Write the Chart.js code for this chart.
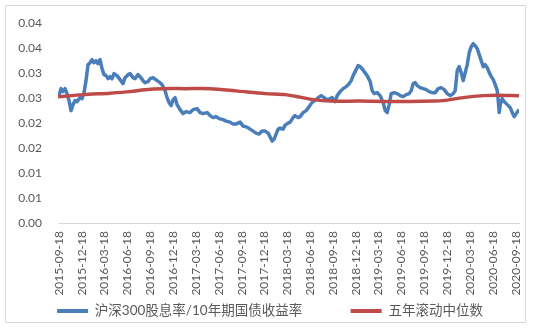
<!DOCTYPE html>
<html><head><meta charset="utf-8">
<script src="https://cdn.jsdelivr.net/npm/chart.js@4.4.0/dist/chart.umd.min.js"></script>
<style>html,body{margin:0;padding:0;background:#fff;}#wrap{width:540px;height:332px;}</style>
</head><body><div id="wrap"><canvas id="c" width="540" height="332"></canvas></div>
<script>
const seriesNames = ["沪深300股息率/10年期国债收益率", "五年滚动中位数"];
const tickLabels = ["2015-09-18","2015-12-18","2016-03-18","2016-06-18","2016-09-18","2016-12-18","2017-03-18","2017-06-18","2017-09-18","2017-12-18","2018-03-18","2018-06-18","2018-09-18","2018-12-18","2019-03-18","2019-06-18","2019-09-18","2019-12-18","2020-03-18","2020-06-18","2020-09-18"];

const blueDates = ["2015-09-18","2015-09-26","2015-10-04","2015-10-12","2015-10-20","2015-10-28","2015-11-05","2015-11-13","2015-11-21","2015-11-29","2015-12-11","2015-12-19","2015-12-27","2016-01-04","2016-01-12","2016-01-20","2016-01-28","2016-02-05","2016-02-13","2016-02-21","2016-02-29","2016-03-08","2016-03-16","2016-03-24","2016-04-01","2016-04-09","2016-04-17","2016-04-25","2016-05-07","2016-05-19","2016-05-31","2016-06-08","2016-06-20","2016-06-28","2016-07-10","2016-07-18","2016-07-30","2016-08-07","2016-08-19","2016-08-27","2016-09-08","2016-09-16","2016-09-28","2016-10-14","2016-10-26","2016-11-03","2016-11-15","2016-11-23","2016-12-01","2016-12-09","2016-12-17","2016-12-25","2017-01-02","2017-01-14","2017-01-26","2017-02-07","2017-02-23","2017-03-07","2017-03-23","2017-04-04","2017-04-16","2017-05-02","2017-05-14","2017-05-26","2017-06-07","2017-06-19","2017-07-05","2017-07-17","2017-08-02","2017-08-14","2017-08-26","2017-09-11","2017-09-23","2017-10-09","2017-10-21","2017-11-02","2017-11-14","2017-11-26","2017-12-08","2017-12-20","2018-01-01","2018-01-09","2018-01-17","2018-01-25","2018-02-02","2018-02-10","2018-02-18","2018-03-02","2018-03-10","2018-03-22","2018-03-30","2018-04-11","2018-04-19","2018-05-01","2018-05-09","2018-05-21","2018-06-02","2018-06-14","2018-06-22","2018-06-30","2018-07-12","2018-07-20","2018-08-01","2018-08-13","2018-08-25","2018-09-06","2018-09-14","2018-09-26","2018-10-04","2018-10-16","2018-10-28","2018-11-09","2018-11-21","2018-11-29","2018-12-07","2018-12-15","2018-12-27","2019-01-04","2019-01-12","2019-01-20","2019-02-01","2019-02-13","2019-02-21","2019-03-01","2019-03-13","2019-03-25","2019-04-06","2019-04-14","2019-04-22","2019-04-30","2019-05-08","2019-05-20","2019-06-01","2019-06-13","2019-06-25","2019-07-07","2019-07-19","2019-07-27","2019-08-04","2019-08-12","2019-08-20","2019-09-01","2019-09-13","2019-09-25","2019-10-07","2019-10-19","2019-10-31","2019-11-12","2019-11-24","2019-12-06","2019-12-18","2019-12-30","2020-01-11","2020-01-19","2020-01-27","2020-02-04","2020-02-12","2020-02-20","2020-02-28","2020-03-07","2020-03-15","2020-03-23","2020-03-31","2020-04-08","2020-04-16","2020-04-24","2020-05-02","2020-05-10","2020-05-18","2020-05-26","2020-06-03","2020-06-11","2020-06-19","2020-06-27","2020-07-05","2020-07-09","2020-07-13","2020-07-17","2020-07-25","2020-08-02","2020-08-14","2020-08-26","2020-09-03","2020-09-11","2020-09-19","2020-09-27"];
const blueValues = [0.0255,0.0269,0.0263,0.0269,0.0259,0.0245,0.0225,0.0237,0.0245,0.0243,0.0251,0.0249,0.0261,0.0285,0.0317,0.0321,0.0327,0.0321,0.0325,0.0319,0.0327,0.0309,0.0297,0.0295,0.0289,0.0293,0.0289,0.0299,0.0295,0.0287,0.0279,0.0291,0.0297,0.0299,0.0291,0.0289,0.0297,0.0293,0.0285,0.0281,0.0283,0.0289,0.0291,0.0285,0.0281,0.0277,0.0265,0.0251,0.0241,0.0235,0.0247,0.0251,0.0237,0.0227,0.0219,0.0223,0.0221,0.0227,0.0229,0.0221,0.0219,0.0221,0.0215,0.0211,0.0213,0.0209,0.0207,0.0204,0.0202,0.0198,0.0198,0.0202,0.0194,0.0192,0.0188,0.0184,0.0180,0.0178,0.0184,0.0184,0.0180,0.0172,0.0164,0.0168,0.0178,0.0188,0.0190,0.0188,0.0196,0.0200,0.0202,0.0211,0.0215,0.0211,0.0213,0.0221,0.0225,0.0233,0.0239,0.0243,0.0247,0.0251,0.0255,0.0251,0.0247,0.0249,0.0251,0.0243,0.0255,0.0263,0.0269,0.0273,0.0279,0.0285,0.0295,0.0303,0.0315,0.0313,0.0309,0.0303,0.0295,0.0283,0.0265,0.0259,0.0261,0.0255,0.0241,0.0225,0.0221,0.0237,0.0259,0.0261,0.0259,0.0255,0.0253,0.0257,0.0259,0.0265,0.0279,0.0281,0.0275,0.0271,0.0269,0.0267,0.0263,0.0261,0.0261,0.0269,0.0271,0.0267,0.0259,0.0255,0.0259,0.0265,0.0305,0.0313,0.0301,0.0285,0.0301,0.0317,0.0341,0.0353,0.0359,0.0355,0.0349,0.0337,0.0325,0.0313,0.0317,0.0311,0.0301,0.0293,0.0287,0.0277,0.0265,0.0245,0.0221,0.0237,0.0249,0.0243,0.0237,0.0231,0.0221,0.0213,0.0219,0.0225];

const redDates = ["2015-09-18","2015-12-23","2016-04-09","2016-06-28","2016-08-27","2016-11-07","2017-02-03","2017-05-14","2017-09-03","2017-12-20","2018-03-10","2018-05-09","2018-06-30","2018-09-06","2019-01-04","2019-04-26","2019-10-31","2019-12-02","2020-02-20","2020-05-10","2020-07-05","2020-09-27"];
const redValues = [0.0253,0.0257,0.0260,0.0263,0.0267,0.0269,0.0269,0.0269,0.0264,0.0259,0.0257,0.0252,0.0247,0.0244,0.0244,0.0243,0.0244,0.0245,0.0251,0.0255,0.0256,0.0255];

const DAY = 86400000, BASE = Date.parse(tickLabels[0]);
const dayOf = s => Math.round((Date.parse(s) - BASE) / DAY);
const toPts = (dates, vals) => dates.map((d, i) => ({x: dayOf(d), y: vals[i]}));

const frame = {
  id: 'frame',
  beforeDraw(chart) {
    const c = chart.ctx;
    c.save();
    c.fillStyle = '#ffffff';
    c.fillRect(0, 0, chart.width, chart.height);
    c.strokeStyle = '#D9D9D9';
    c.lineWidth = 1;
    c.strokeRect(5.5, 5.5, 520, 317);
    c.restore();
  }
};

new Chart(document.getElementById('c'), {
  type: 'line',
  data: {
    datasets: [
      {label: seriesNames[0], data: toPts(blueDates, blueValues), borderColor: '#4A7EBB', backgroundColor: '#4A7EBB', borderWidth: 3.5, pointRadius: 0, tension: 0, order: 1, borderJoinStyle: 'round', borderCapStyle: 'round'},
      {label: seriesNames[1], data: toPts(redDates, redValues), borderColor: '#BE4B48', backgroundColor: '#BE4B48', borderWidth: 3.5, pointRadius: 0, tension: 0.3, order: 0, borderJoinStyle: 'round', borderCapStyle: 'round'}
    ]
  },
  options: {
    responsive: false, animation: false, devicePixelRatio: 1,
    layout: {padding: {top: 22, left: 0, right: 0, bottom: 4.25}},
    plugins: {
      tooltip: {enabled: false},
      legend: {
        position: 'bottom',
        labels: {
          boxWidth: 31, boxHeight: 4, padding: 8, color: '#595959',
          font: {family: "Lato, 'Noto Sans CJK SC'", size: 13.5},
          generateLabels: chart => chart.data.datasets.map((ds, i) => ({text: i === 0 ? ds.label + '\u3000\u3000\u3000' : ds.label, fillStyle: ds.borderColor, strokeStyle: ds.borderColor, lineWidth: 0, datasetIndex: i, hidden: false, fontColor: '#595959'}))
        }
      }
    },
    scales: {
      x: {
        type: 'linear', min: -4, max: 1839,
        grid: {display: false, drawTicks: false},
        border: {display: true, color: '#D9D9D9', width: 1},
        ticks: {autoSkip: false, minRotation: 90, maxRotation: 90, padding: 8, color: '#595959', font: {family: 'Lato', size: 12}, callback: (v, i) => tickLabels[i]},
        afterBuildTicks: s => { s.ticks = tickLabels.map(t => ({value: dayOf(t)})); },
        afterFit: s => { s.height = 73.25; }
      },
      y: {
        min: 0, max: 0.04,
        grid: {display: false, drawTicks: false},
        border: {display: false},
        ticks: {stepSize: 0.005, padding: 16, color: '#595959', font: {family: 'Lato', size: 12}, callback: v => (Math.round(v * 100 + 1e-9) / 100).toFixed(2)},
        afterFit: s => { s.width = 58; }
      },
      yRight: {
        position: 'right', min: 0, max: 0.04,
        grid: {display: false, drawTicks: false},
        border: {display: false},
        ticks: {display: false},
        afterFit: s => { s.width = 21; }
      }
    }
  },
  plugins: [frame]
});
</script></body></html>
